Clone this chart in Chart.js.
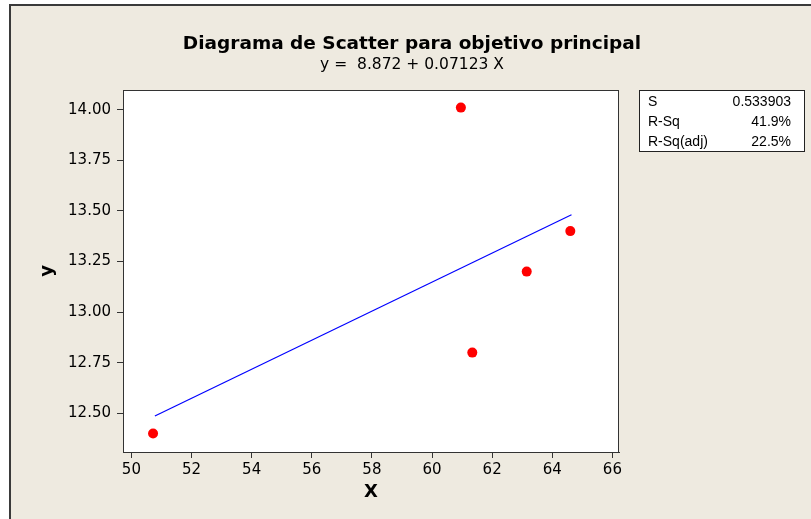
<!DOCTYPE html>
<html>
<head>
<meta charset="utf-8">
<script src="https://cdn.jsdelivr.net/npm/chart.js@4"></script>
<style>
  html, body { margin: 0; padding: 0; background: #fff; }
  canvas { display: block; }
</style>
</head>
<body>
<canvas id="chart" width="811" height="519"></canvas>
<script>
// data
var xVals = [50.72, 60.96, 61.34, 63.15, 64.6];
var yVals = [12.4, 14.01, 12.8, 13.2, 13.4];
var fitX = [50.78, 64.64];
var fitY = [12.487, 13.481];
var xTicks = [50, 52, 54, 56, 58, 60, 62, 64, 66];
var yTicks = [12.5, 12.75, 13.0, 13.25, 13.5, 13.75, 14.0];
var statNames = ['S', 'R-Sq', 'R-Sq(adj)'];
var statValues = ['0.533903', '41.9%', '22.5%'];
var titleText = 'Diagrama de Scatter para objetivo principal';
var subtitleText = 'y =  8.872 + 0.07123 X';

var FONT = '"DejaVu Sans", sans-serif';
var BEIGE = 'rgb(238,234,224)';

function toPoints(xs, ys) {
    return xs.map(function (x, i) { return { x: x, y: ys[i] }; });
}

var decor = {
    id: 'decor',
    beforeDraw: function (chart) {
        var c = chart.ctx, a = chart.chartArea;
        c.save();
        c.fillStyle = '#fff';
        c.fillRect(0, 0, chart.width, chart.height);
        c.fillStyle = BEIGE;
        c.fillRect(10, 5, chart.width - 10, chart.height - 5);
        c.strokeStyle = '#3a3a3a';
        c.lineWidth = 2;
        c.beginPath();
        c.moveTo(10, chart.height);
        c.lineTo(10, 5);
        c.lineTo(chart.width, 5);
        c.stroke();
        c.fillStyle = '#fff';
        c.fillRect(a.left, a.top, a.right - a.left, a.bottom - a.top);
        c.restore();
    },
    afterDraw: function (chart) {
        var c = chart.ctx, a = chart.chartArea;
        c.save();
        // plot frame
        c.strokeStyle = '#333';
        c.lineWidth = 1;
        c.strokeRect(a.left + 0.5, a.top + 0.5, a.right - a.left - 1, a.bottom - a.top);

        c.fillStyle = '#000';
        c.textAlign = 'center';
        c.textBaseline = 'middle';
        c.font = 'bold 18.5px ' + FONT;
        c.fillText(titleText, 412, 44);
        c.font = '15.5px ' + FONT;
        c.fillText(subtitleText, 412, 65);

        // axis titles
        c.font = 'bold 18px ' + FONT;
        c.fillText('X', (a.left + a.right) / 2, 492);
        c.save();
        c.translate(47, (a.top + a.bottom) / 2);
        c.rotate(-Math.PI / 2);
        c.fillText('y', 0, 0);
        c.restore();

        // stats box
        c.fillStyle = '#fff';
        c.fillRect(639, 90, 165, 62);
        c.strokeStyle = '#222';
        c.strokeRect(639.5, 90.5, 165, 61);
        c.fillStyle = '#000';
        c.font = '14px "Liberation Sans", sans-serif';
        for (var i = 0; i < statNames.length; i++) {
            var yy = 102 + i * 20;
            c.textAlign = 'left';
            c.fillText(statNames[i], 648, yy);
            c.textAlign = 'right';
            c.fillText(statValues[i], 791, yy);
        }
        c.restore();
    }
};

new Chart(document.getElementById('chart').getContext('2d'), {
    type: 'scatter',
    data: {
        datasets: [{
            label: 'Ajuste',
            type: 'line',
            data: toPoints(fitX, fitY),
            borderColor: '#0000ff',
            borderWidth: 1.2,
            pointRadius: 0,
            fill: false,
            order: 2
        }, {
            label: 'y',
            data: toPoints(xVals, yVals),
            backgroundColor: '#ff0000',
            borderColor: '#ff0000',
            pointRadius: 5,
            pointBorderWidth: 0,
            order: 1
        }]
    },
    options: {
        responsive: false,
        animation: false,
        devicePixelRatio: 1,
        layout: { padding: { top: 90, right: 192, left: 0, bottom: 0 } },
        plugins: {
            legend: { display: false },
            tooltip: { enabled: false },
            title: { display: false }
        },
        scales: {
            x: {
                type: 'linear',
                min: 49.72,
                max: 66.22,
                afterBuildTicks: function (s) { s.ticks = xTicks.map(function (v) { return { value: v }; }); },
                afterFit: function (s) { s.height = 67; },
                grid: { drawOnChartArea: false, drawTicks: true, tickLength: 6, color: '#333' },
                border: { display: true, color: '#333' },
                ticks: { color: '#000', padding: 3, maxRotation: 0, autoSkip: false, font: { family: FONT, size: 15 } }
            },
            y: {
                type: 'linear',
                min: 12.309,
                max: 14.097,
                afterBuildTicks: function (s) { s.ticks = yTicks.map(function (v) { return { value: v }; }); },
                afterFit: function (s) { s.width = 123; },
                grid: { drawOnChartArea: false, drawTicks: true, tickLength: 6, color: '#333' },
                border: { display: true, color: '#333' },
                ticks: {
                    color: '#000', padding: 6, autoSkip: false, font: { family: FONT, size: 15 },
                    callback: function (v) { return Number(v).toFixed(2); }
                }
            }
        }
    },
    plugins: [decor]
});
</script>
</body>
</html>
